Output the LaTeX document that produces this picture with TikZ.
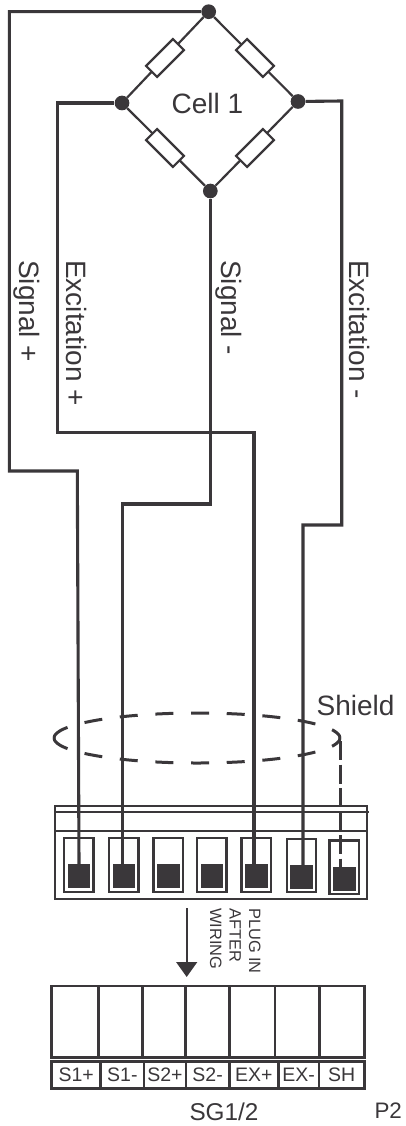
\documentclass[tikz,border=0pt]{standalone}
\usepackage{fontspec}
\setmainfont{Liberation Sans}
\usetikzlibrary{positioning,arrows.meta}
\definecolor{ink}{HTML}{3A373A}
\tikzset{
    wire/.style={draw=ink,line width=3.1pt},
    arm/.style={draw=ink,line width=2.2pt},
    junction/.style={circle,fill=ink,inner sep=0pt,minimum size=14.7pt},
    resistor/.style={draw=ink,fill=white,line width=2.2pt,minimum width=38pt,minimum height=15.5pt,inner sep=0pt,outer sep=0pt},
    wirelabel/.style={text=ink,font=\fontsize{28}{30}\selectfont,rotate=-90,anchor=base west,inner sep=0pt},
    flatlabel/.style={text=ink,anchor=base west,inner sep=0pt},
    pinbox/.style={draw=ink,line width=2.3pt,minimum width=29.3pt,minimum height=53.4pt,inner sep=0pt,outer sep=0pt},
    pinfill/.style={fill=ink,minimum width=22.7pt,minimum height=24pt,inner sep=0pt,outer sep=0pt},
    frame/.style={draw=ink,line width=2.3pt},
    shieldline/.style={draw=ink,line width=3pt},
    plugcell/.style={draw=ink,line width=2.6pt,minimum height=71.7pt,inner sep=0pt,outer sep=0pt},
    tagcell/.style={draw=ink,line width=2.6pt,minimum height=26.6pt,inner sep=0pt,outer sep=0pt,text=ink,font=\fontsize{19.5}{21}\selectfont},
}
\begin{document}
\begin{tikzpicture}[x=1pt,y=-1pt]
    \useasboundingbox (0,0) rectangle (405,1126);

    % bridge
    \node[junction] (top) at (208.7,11.7) {};
    \node[junction] (left) at (122,103) {};
    \node[junction] (right) at (298,101.5) {};
    \node[junction] (bottom) at (210.3,191) {};
    \draw[arm] (top) -- (left);
    \draw[arm] (top) -- (right);
    \draw[arm] (left) -- (bottom);
    \draw[arm] (right) -- (bottom);
    \node[resistor,rotate=45] (r1) at (165,58) {};
    \node[resistor,rotate=-45] (r2) at (255,58) {};
    \node[resistor,rotate=-45] (r3) at (165,148) {};
    \node[resistor,rotate=45] (r4) at (255,148) {};
    \node[flatlabel,font=\fontsize{28}{30}\selectfont] (cell) at (171.5,114) {Cell 1};

    % wire labels
    \node[wirelabel] (sigp) at (19.5,260) {Signal +};
    \node[wirelabel] (excp) at (66.5,260) {Excitation +};
    \node[wirelabel] (sigm) at (221.5,260) {Signal -};
    \node[wirelabel] (excm) at (349.5,260) {Excitation -};

    % connector
    \node[frame,minimum width=311.7pt,minimum height=92.7pt,inner sep=0pt,outer sep=0pt] (conn) at (210.8,852.3) {};
    \draw[frame] (56,812) -- (369,812);
    \draw[frame] (conn.west |- 0,831) -- (conn.east |- 0,831);
    \foreach \n/\x/\y in {a/78.7/0,b/123.7/0,c/168/0,d/211.7/0,e/256/0,f/301.3/0.5,g/344/2.3}{
        \node[pinbox] (box\n) at (\x,865+\y) {};
        \node[pinfill] (fill\n) at (\x+0.3,876.3+\y) {};
    }

    % wires
    \coordinate (spa) at (9.3,11.7);
    \coordinate (spb) at (9.3,471);
    \coordinate (spc) at (77.3,471);
    \coordinate (epa) at (57.3,103);
    \coordinate (epb) at (57.3,432.7);
    \coordinate (epc) at (254,432.7);
    \coordinate (smb) at (210.3,504);
    \coordinate (smc) at (122.8,504);
    \coordinate (ema) at (341.7,101);
    \coordinate (emb) at (341.7,525);
    \coordinate (emc) at (303,525);
    \draw[wire] (top) -- (spa) -- (spb) -- (spc) -- (filla.north);
    \draw[wire] (left) -- (epa) -- (epb) -- (epc) -- (epc |- fille.north);
    \draw[wire] (bottom) -- (smb) -- (smc) -- (smc |- fillb.north);
    \draw[wire] (right) -- (ema) -- (emb) -- (emc) -- (emc |- fillf.north);

    % shield
    \coordinate (shl) at (54,738);
    \coordinate (shd) at (340,741);
    \draw[shieldline,dash pattern=on 18pt off 17.7pt] (shl) arc[start angle=180,end angle=0,x radius=143pt,y radius=25pt];
    \draw[shieldline,dash pattern=on 18pt off 17.7pt] (shl) arc[start angle=180,end angle=360,x radius=143pt,y radius=25pt];
    \draw[shieldline,dash pattern=on 19pt off 4.5pt] (shd) -- (shd |- fillg.north);
    \node[flatlabel,font=\fontsize{28}{30}\selectfont] (shield) at (316.5,715) {Shield};

    % plug in
    \coordinate (arrowa) at (186.7,908);
    \coordinate (arrowb) at (186.7,977);
    \draw[draw=ink,line width=2.4pt,-{Triangle[length=15pt,width=20.7pt]}] (arrowa) -- (arrowb);
    \node[rotate=-90,anchor=north west,align=left,text=ink,font=\fontsize{16.4}{19.5}\selectfont,inner sep=0pt] (plugnote) at (260.7,908) {PLUG IN\\AFTER\\WIRING};

    % plug
    \foreach \n/\a/\b in {a/51.7/98.3,b/98.3/142.7,c/142.7/185.7,d/185.7/229.3,e/229.3/275,f/275/319.3,g/319.3/364.3}{
        \node[plugcell,minimum width=\b pt-\a pt] (plug\n) at ({(\a+\b)/2},1021.8) {};
    }
    \foreach \n/\a/\b/\t in {a/51.7/100.7/S1+,b/100.7/144/S1-,c/144/186/S2+,d/186/229.3/S2-,e/229.3/278.3/EX+,f/278.3/319/EX-,g/319/364.3/SH}{
        \node[tagcell,minimum width=\b pt-\a pt] (tag\n) at ({(\a+\b)/2},1075) {\t};
    }
    \node[flatlabel,font=\fontsize{24.3}{26}\selectfont] (sg) at (189.3,1120) {SG1/2};
    \node[flatlabel,font=\fontsize{22.4}{24}\selectfont] (ptwo) at (374.3,1118.3) {P2};
\end{tikzpicture}
\end{document}
